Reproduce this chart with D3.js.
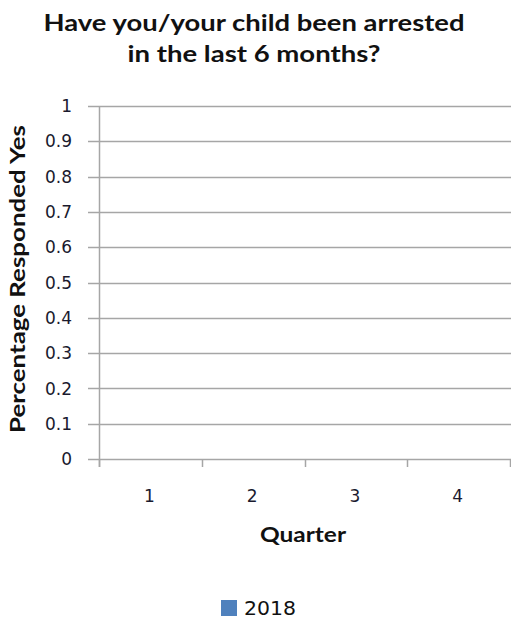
<!DOCTYPE html>
<html><head><meta charset="utf-8">
<script src="https://cdn.jsdelivr.net/npm/d3@7"></script>
<style>
html,body{margin:0;padding:0;background:#fff;}
svg{display:block;}
text{font-family:"DejaVu Sans",sans-serif;}
.lato{font-family:Lato,"DejaVu Sans",sans-serif;}
</style></head>
<body>
<svg id="chart" width="511" height="622"></svg>
<script>
const titleLines = ["Have you/your child been arrested", "in the last 6 months?"];
const categories = ["1", "2", "3", "4"];
const seriesName = "2018";
const values2018 = [0, 0, 0, 0];
const yTicks = [0, 0.1, 0.2, 0.3, 0.4, 0.5, 0.6, 0.7, 0.8, 0.9, 1];
const xTitle = "Quarter";
const yTitle = "Percentage Responded  Yes";

const svg = d3.select("#chart");
const W = 511, H = 622;
const m = {left: 99, right: 1, top: 106, bottom: 163};
const x = d3.scaleBand().domain(categories).range([m.left, W - m.right]).padding(0.3).paddingOuter(0.15);
const xb = d3.scaleBand().domain(categories).range([m.left, W - m.right]);
const y = d3.scaleLinear().domain([0, 1]).range([H - m.bottom, m.top]);
const grey = "#a6a6a6";

// title
svg.append("g").selectAll("text").data(titleLines).join("text")
  .attr("class", "lato")
  .attr("x", 254).attr("y", (d, i) => 31 + i * 31)
  .attr("text-anchor", "middle")
  .attr("font-size", 23).attr("font-weight", "bold").attr("fill", "#111")
  .attr("textLength", (d, i) => i === 0 ? 421 : 253)
  .attr("lengthAdjust", "spacingAndGlyphs")
  .text(d => d);

// gridlines
svg.append("g").selectAll("line").data(yTicks).join("line")
  .attr("x1", m.left - 11).attr("x2", W)
  .attr("y1", d => Math.round(y(d)) + 0.5).attr("y2", d => Math.round(y(d)) + 0.5)
  .attr("stroke", grey).attr("stroke-width", 1.5);

// y axis line
svg.append("line").attr("x1", m.left + 0.5).attr("x2", m.left + 0.5)
  .attr("y1", y(1)).attr("y2", y(0) + 8).attr("stroke", grey).attr("stroke-width", 1.5);

// x ticks
const xTickPos = categories.map(c => xb(c)).concat([xb(categories[categories.length - 1]) + xb.bandwidth()]);
svg.append("g").selectAll("line").data(xTickPos).join("line")
  .attr("x1", d => Math.min(Math.round(d), W - 1) + 0.5).attr("x2", d => Math.min(Math.round(d), W - 1) + 0.5)
  .attr("y1", y(0)).attr("y2", y(0) + 8)
  .attr("stroke", grey).attr("stroke-width", 1.5);

// bars (values are zero)
svg.append("g").selectAll("rect").data(values2018).join("rect")
  .attr("x", (d, i) => x(categories[i])).attr("width", x.bandwidth())
  .attr("y", d => y(d)).attr("height", d => y(0) - y(d))
  .attr("fill", "#4f81bd");

// y tick labels
svg.append("g").selectAll("text").data(yTicks).join("text")
  .attr("x", 72).attr("y", d => y(d)).attr("dy", "0.36em")
  .attr("text-anchor", "end").attr("font-size", 17).attr("fill", "#1a1a2e")
  .text(d => d3.format("~g")(d));

// x tick labels
svg.append("g").selectAll("text").data(categories).join("text")
  .attr("x", d => xb(d) + xb.bandwidth() / 2 - 1).attr("y", 496).attr("dy", "0.36em")
  .attr("text-anchor", "middle").attr("font-size", 17).attr("fill", "#1a1a2e")
  .text(d => d);

// axis titles
svg.append("text").attr("class", "lato").attr("x", 303).attr("y", 535).attr("dy", "0.36em")
  .attr("text-anchor", "middle").attr("font-size", 20).attr("font-weight", "bold").attr("fill", "#111")
  .attr("textLength", 86).attr("lengthAdjust", "spacingAndGlyphs")
  .text(xTitle);

svg.append("text").attr("class", "lato").attr("transform", "translate(18,279) rotate(-90)").attr("dy", "0.36em")
  .attr("text-anchor", "middle").attr("font-size", 20).attr("font-weight", "bold").attr("fill", "#111")
  .attr("textLength", 308).attr("lengthAdjust", "spacingAndGlyphs")
  .text(yTitle);

// legend
const lg = svg.append("g").attr("transform", "translate(221,600)");
lg.append("rect").attr("width", 16).attr("height", 16).attr("fill", "#4f81bd");
lg.append("text").attr("x", 23).attr("y", 8).attr("dy", "0.36em")
  .attr("font-size", 20).attr("fill", "#111")
  .attr("textLength", 52).attr("lengthAdjust", "spacingAndGlyphs").text(seriesName);
</script>
</body></html>
